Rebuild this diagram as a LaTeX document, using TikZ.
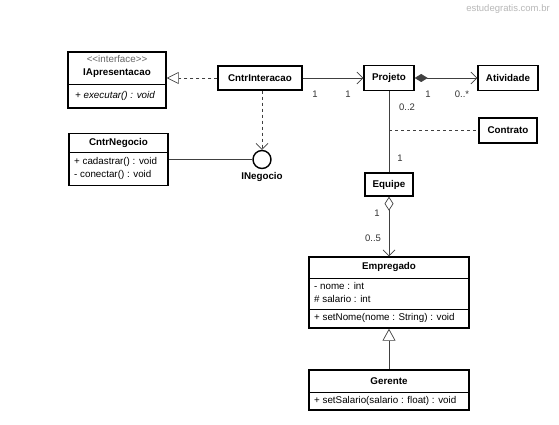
\documentclass[tikz,border=0pt]{standalone}
\usepackage{fontspec}
\setmainfont{Liberation Sans}
\usetikzlibrary{arrows.meta}
\begin{document}
\begin{tikzpicture}[x=1pt,y=-1pt,
  box/.style={draw, line width=1.4pt, inner sep=0pt},
  conn/.style={line width=0.7pt, black!75},
  txt/.style={font=\fontsize{9.8}{11}\selectfont, inner sep=0pt},
  lbl/.style={font=\fontsize{9.5}{11}\selectfont, inner sep=0pt, black!80},
  ttl/.style={font=\fontsize{9.8}{11}\selectfont\bfseries, inner sep=0pt},
  sep/.style={line width=0.7pt},
  barb/.style={-{Straight Barb[length=6pt,width=12pt,line width=0.7pt]}},
]
\useasboundingbox (0,0) rectangle (559,425);
\fill[white] (0,0) rectangle (559,425);

% watermark
\node[font=\fontsize{9.5}{11}\selectfont, text=black!28, inner sep=0pt] (wm) at (508,9) {estudegratis.com.br};

% boxes
\node[box, minimum width=98pt, minimum height=56pt] (iapr) at (117,80) {};
\node[box, minimum width=84pt, minimum height=24pt] (cntri) at (260,78) {};
\node[box, minimum width=50pt, minimum height=25pt] (proj) at (389,78) {};
\node[box, minimum width=60pt, minimum height=25pt] (ativ) at (508,78) {};
\node[box, minimum width=58pt, minimum height=25pt] (contr) at (508,130.5) {};
\node[box, minimum width=48pt, minimum height=23pt] (equipe) at (389,184.5) {};
\node[box, minimum width=99pt, minimum height=52pt] (cntrn) at (118.5,159.5) {};
\node[box, minimum width=160pt, minimum height=71pt] (empr) at (389,292.5) {};
\node[box, minimum width=160pt, minimum height=40pt] (ger) at (389,390) {};
\node[draw, line width=1.4pt, circle, minimum size=18pt, inner sep=0pt] (circ) at (262,159.5) {};

% box texts
\node[txt, text=black!60] (iaprst) at (117,59) {<\kern0pt<interface>\kern0pt>};
\node[ttl] (iaprt) at (117,73) {IApresentacao};
\draw[sep] (iapr.west |- 0,84) -- (iapr.east |- 0,84);
\node[txt, anchor=west, font=\fontsize{9.8}{11}\selectfont\itshape] (iaprm) at (75,96) {+ executar() : void};

\node[ttl] (cntrit) at (cntri) {CntrInteracao};
\node[ttl] (projt) at (proj) {Projeto};
\node[ttl] (ativt) at (ativ) {Atividade};
\node[ttl] (contrt) at (contr) {Contrato};
\node[ttl] (equipet) at (equipe) {Equipe};

\node[ttl] (cntrnt) at (118.5,143) {CntrNegocio};
\draw[sep] (cntrn.west |- 0,152) -- (cntrn.east |- 0,152);
\node[txt, anchor=west] (cntrnm1) at (74,162) {+ cadastrar() : void};
\node[txt, anchor=west] (cntrnm2) at (74,175) {- conectar() : void};

\node[ttl] (emprt) at (389,267) {Empregado};
\draw[sep] (empr.west |- 0,278) -- (empr.east |- 0,278);
\node[txt, anchor=west] (empra1) at (314,286) {- nome : int};
\node[txt, anchor=west] (empra2) at (314,298.5) {\# salario : int};
\draw[sep] (empr.west |- 0,309) -- (empr.east |- 0,309);
\node[txt, anchor=west] (emprm) at (314,318) {+ setNome(nome : String) : void};

\node[ttl] (gert) at (389,381) {Gerente};
\draw[sep] (ger.west |- 0,392) -- (ger.east |- 0,392);
\node[txt, anchor=west] (germ) at (314,401) {+ setSalario(salario : float) : void};

\node[ttl] (inegt) at (262,177) {INegocio};

% connectors
\draw[conn, dashed, -{Triangle[open, length=12pt, width=12pt, line width=0.7pt]}] (cntri.west) -- (cntri.west -| iapr.east);
\draw[conn, dashed, barb] (circ.north |- cntri.south) -- (circ.north);
\draw[conn] (cntrn.east) -- (circ.west);
\draw[conn, barb] (cntri.east) -- (proj.west);
\draw[conn, {Diamond[length=13pt, width=8pt]}-{Straight Barb[length=6pt,width=12pt,line width=0.7pt]}] (proj.east) -- (ativ.west);
\draw[conn] (proj.south) -- (equipe.north);
\coordinate (mid) at (389,130.5);
\draw[conn, dashed] (mid) -- (contr.west);
\draw[conn, {Diamond[open, length=14pt, width=9pt, line width=0.7pt]}-{Straight Barb[length=6pt,width=12pt,line width=0.7pt]}] (equipe.south) -- (empr.north);
\draw[conn, -{Triangle[open, length=12pt, width=13pt, line width=0.7pt]}] (ger.north) -- (empr.south);

% multiplicities
\node[lbl] (m1) at (315,94) {1};
\node[lbl] (m2) at (348,94) {1};
\node[lbl] (m3) at (428,94) {1};
\node[lbl] (m4) at (462,94) {0..*};
\node[lbl] (m5) at (407,107) {0..2};
\node[lbl] (m6) at (400,158) {1};
\node[lbl] (m7) at (377,213) {1};
\node[lbl] (m8) at (373,238) {0..5};
\end{tikzpicture}
\end{document}
